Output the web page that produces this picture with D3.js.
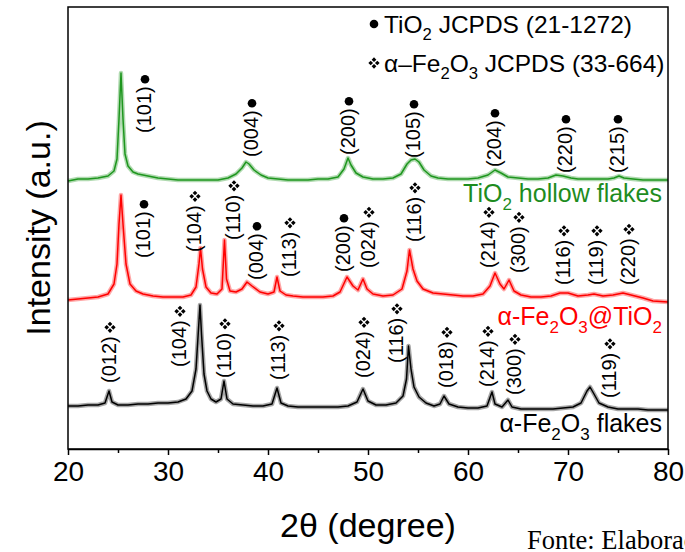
<!DOCTYPE html>
<html>
<head>
<meta charset="utf-8">
<script src="https://cdn.jsdelivr.net/npm/d3@7"></script>
<style>
  body { margin: 0; background: #fff; }
  svg { display: block; font-family: Arial, "Liberation Sans", Helvetica, sans-serif; }
</style>
</head>
<body>
<div id="chart"></div>
<script>
// 2theta (degree) vs stacked intensity (a.u.)
const tio2Flakes = [
  [20, 268], [21, 270], [22, 270], [23, 271], [24, 273], [24.6, 278], [24.9, 290], [25.1, 330],
  [25.3, 376], [25.5, 330], [25.7, 295], [26, 283], [26.5, 277], [27, 275], [28, 273], [29, 271],
  [30, 270], [31, 269], [32, 269], [33, 269], [34, 269], [35, 269], [36, 271], [36.8, 275],
  [37.4, 281], [37.8, 287], [38.1, 285], [38.6, 279], [39.3, 274], [40, 271], [41, 270], [42, 269],
  [43, 269], [44, 269], [45, 270], [46, 270], [47, 272], [47.6, 280], [48, 291], [48.3, 284],
  [48.8, 276], [49.5, 272], [50.5, 270], [51.5, 270], [52.5, 271], [53.3, 275], [53.9, 285],
  [54.3, 289], [54.7, 290], [55.1, 287], [55.6, 279], [56.3, 273], [57, 271], [58, 270], [59, 270],
  [60, 270], [61, 271], [62, 274], [62.7, 279], [63.3, 276], [64, 272], [65, 271], [66, 270],
  [67, 270], [68, 271], [68.8, 274], [69.5, 273], [70.3, 271], [71, 270], [72, 270], [73, 270],
  [74, 270], [74.6, 271], [75.1, 273], [75.6, 271], [76.5, 270], [77.5, 269], [78.5, 269], [80, 269]
];

const fe2o3Tio2 = [
  [20, 149], [21, 150], [22, 151], [23, 152], [24, 155], [24.6, 165], [24.9, 185], [25.1, 225],
  [25.3, 254], [25.5, 225], [25.8, 185], [26.2, 165], [26.8, 158], [27.5, 155], [28.5, 153],
  [29.5, 152], [30.5, 152], [31.5, 152], [32.3, 154], [32.8, 162], [33.1, 185], [33.25, 201],
  [33.45, 180], [33.8, 162], [34.3, 156], [34.9, 155], [35.4, 160], [35.65, 209], [35.85, 170],
  [36.2, 158], [36.8, 157], [37.4, 160], [37.9, 167], [38.4, 163], [39.2, 157], [40, 155],
  [40.6, 157], [40.9, 172], [41.2, 158], [41.8, 154], [42.5, 153], [43.5, 152], [44.5, 152],
  [45.5, 152], [46.5, 153], [47.2, 157], [47.9, 172], [48.5, 163], [49, 159], [49.5, 170],
  [49.9, 160], [50.5, 155], [51.5, 153], [52.5, 154], [53.4, 160], [53.9, 178], [54.15, 199],
  [54.5, 180], [54.9, 168], [55.5, 160], [56.5, 156], [57.5, 155], [58.5, 154], [59.5, 153],
  [60.5, 153], [61.5, 155], [62.2, 163], [62.7, 176], [63.2, 165], [63.6, 160], [64.1, 169],
  [64.6, 158], [65.3, 154], [66.3, 152], [67.3, 152], [68.3, 153], [69.2, 156], [70, 156],
  [71, 153], [72, 154], [72.6, 155], [73.5, 153], [74.5, 154], [75.5, 156], [76.3, 154],
  [77.5, 151], [78.5, 148], [80, 147]
];

const fe2o3Flakes = [
  [20, 43], [21, 43], [22, 44], [23, 44], [23.7, 46], [24.1, 58], [24.4, 47], [25, 44], [26, 44],
  [27, 45], [28, 45], [29, 46], [30, 46], [31, 47], [31.8, 50], [32.4, 58], [32.8, 80],
  [33.05, 120], [33.2, 144], [33.35, 115], [33.6, 75], [33.9, 58], [34.3, 50], [34.8, 47],
  [35.3, 50], [35.6, 68], [35.9, 50], [36.5, 45], [37.5, 44], [38.5, 43], [39.5, 43], [40.4, 45],
  [40.9, 61], [41.3, 46], [42, 43], [43, 42], [44, 42], [45, 42], [46, 42], [47, 42], [48, 43],
  [48.9, 47], [49.5, 60], [50, 48], [50.8, 44], [51.8, 44], [52.8, 46], [53.5, 53], [53.85, 70],
  [54.05, 103], [54.3, 80], [54.6, 62], [55.1, 52], [55.8, 46], [56.6, 43], [57.2, 45],
  [57.6, 53], [58.1, 45], [59, 42], [60, 41], [61, 41], [61.9, 43], [62.4, 57], [62.7, 45],
  [63.4, 42], [64, 49], [64.4, 42], [65.3, 40], [66.5, 40], [67.5, 40], [68.5, 40], [69.5, 41],
  [70.5, 42], [71.3, 46], [71.9, 58], [72.2, 62], [72.6, 55], [73.1, 46], [74, 42], [75, 40],
  [76, 40], [77, 40], [78, 39], [79, 39], [80, 39]
];

// reflection labels: hkl, phase (t = TiO2 dot, f = Fe2O3 diamonds), 2theta, intensity at label foot
const tio2Labels = [
  ['(101)', 't', 27.6, 316], ['(004)', 't', 38.3, 292], ['(200)', 't', 48.0, 294],
  ['(105)', 't', 54.5, 291], ['(204)', 't', 62.6, 282], ['(220)', 't', 69.7, 276],
  ['(215)', 't', 74.9, 276]
];
const compositeLabels = [
  ['(101)', 't', 27.5, 191], ['(104)', 'f', 32.6, 197], ['(110)', 'f', 36.5, 209],
  ['(004)', 't', 38.8, 169], ['(113)', 'f', 42.1, 172], ['(200)', 't', 47.5, 177],
  ['(024)', 'f', 50.0, 181], ['(116)', 'f', 54.6, 207], ['(214)', 'f', 62.0, 181],
  ['(300)', 'f', 65.0, 176], ['(116)', 'f', 69.5, 164], ['(119)', 'f', 72.8, 164],
  ['(220)', 'f', 76.0, 164]
];
const fe2o3Labels = [
  ['(012)', 'f', 24.1, 66], ['(104)', 'f', 31.1, 82], ['(110)', 'f', 35.6, 71],
  ['(113)', 'f', 41.0, 69], ['(024)', 'f', 49.5, 71], ['(116)', 'f', 52.8, 86],
  ['(018)', 'f', 57.8, 61], ['(214)', 'f', 61.9, 62], ['(300)', 'f', 64.6, 54],
  ['(119)', 'f', 74.1, 51]
];

const majorTicks = [20, 30, 40, 50, 60, 70, 80];
const minorTicks = [25, 35, 45, 55, 65, 75];

const W = 685, H = 552;
const margin = {top: 7, right: 17, bottom: 103, left: 68};
const width = W - margin.left - margin.right;
const height = H - margin.top - margin.bottom;

const svg = d3.select('#chart').append('svg')
  .attr('width', W)
  .attr('height', H);

const g = svg.append('g')
  .attr('transform', 'translate(' + margin.left + ',' + margin.top + ')');

const x = d3.scaleLinear().domain([20, 80]).range([0, width]);
const y = d3.scaleLinear().domain([0, height]).range([height, 0]);

// write text with subscripts: parts = [[text, isSub], ...]
function rich(sel, parts, size) {
  let down = false;
  parts.forEach(p => {
    const t = sel.append('tspan').text(p[0]);
    if (p[1] && !down) { t.attr('dy', size * 0.3).attr('font-size', size * 0.68); down = true; }
    else if (p[1]) { t.attr('font-size', size * 0.68); }
    else if (down) { t.attr('dy', -size * 0.3); down = false; }
  });
  return sel;
}

// series
const line = d3.line().x(d => x(d[0])).y(d => y(d[1]));
const series = [
  {data: tio2Flakes, color: '#1e961e'},
  {data: fe2o3Tio2, color: '#ff0000'},
  {data: fe2o3Flakes, color: '#000000'}
];
series.forEach(s => {
  g.append('path').datum(s.data)
    .attr('fill', 'none').attr('stroke', s.color)
    .attr('stroke-width', 4.5).attr('stroke-opacity', 0.35)
    .attr('stroke-linejoin', 'round')
    .attr('d', line);
  g.append('path').datum(s.data)
    .attr('fill', 'none').attr('stroke', s.color)
    .attr('stroke-width', 1.5)
    .attr('stroke-linejoin', 'round')
    .attr('d', line);
});

// phase markers: dot for TiO2, four little diamonds for Fe2O3
const diamond = d3.symbol().type(d3.symbolSquare).size(11);
function marker(sel, kind, cx, cy) {
  if (kind === 't') {
    sel.append('circle').attr('cx', cx).attr('cy', cy).attr('r', 4.3).attr('fill', '#000');
  } else {
    [[0, -3.3], [3.3, 0], [0, 3.3], [-3.3, 0]].forEach(o => {
      sel.append('path')
        .attr('d', diamond())
        .attr('transform', 'translate(' + (cx + o[0]) + ',' + (cy + o[1]) + ') rotate(45)')
        .attr('fill', '#000');
    });
  }
}

[tio2Labels, compositeLabels, fe2o3Labels].forEach(list => {
  list.forEach(d => {
    const px = x(d[2]), py = y(d[3]);
    const t = g.append('text')
      .attr('transform', 'translate(' + px + ',' + py + ') rotate(-90)')
      .attr('dominant-baseline', 'central')
      .attr('font-size', 20)
      .text(d[0]);
    const len = t.node().getComputedTextLength();
    marker(g, d[1], px + 1, py - len - (d[1] === 't' ? 7 : 9));
  });
});

// series names
const names = [
  {parts: [['TiO', 0], ['2', 1], [' hollow flakes', 0]], color: '#1e8c1e', at: 202},
  {parts: [['\u03b1-Fe', 0], ['2', 1], ['O', 0], ['3', 1], ['@TiO', 0], ['2', 1]], color: '#ff0000', at: 325},
  {parts: [['\u03b1-Fe', 0], ['2', 1], ['O', 0], ['3', 1], [' flakes', 0]], color: '#000', at: 432}
];
names.forEach(n => {
  rich(svg.append('text')
    .attr('x', 662).attr('y', n.at)
    .attr('text-anchor', 'end')
    .attr('font-size', 25)
    .attr('fill', n.color), n.parts, 25);
});

// phase legend
const legend = [
  {kind: 't', parts: [['TiO', 0], ['2', 1], [' JCPDS (21-1272)', 0]], at: 33},
  {kind: 'f', parts: [['\u03b1\u2013Fe', 0], ['2', 1], ['O', 0], ['3', 1], [' JCPDS (33-664)', 0]], at: 72}
];
legend.forEach(l => {
  rich(svg.append('text')
    .attr('x', 384).attr('y', l.at)
    .attr('font-size', 24.5), l.parts, 24.5);
  marker(svg, l.kind, 374, l.at - 9);
});

// frame
g.append('rect')
  .attr('width', width).attr('height', height)
  .attr('fill', 'none').attr('stroke', '#000').attr('stroke-width', 1.5);

// x axis
const xAxis = g.append('g')
  .attr('transform', 'translate(0,' + height + ')')
  .call(d3.axisBottom(x).tickValues(majorTicks).tickSize(6).tickSizeOuter(0).tickPadding(6));
xAxis.selectAll('text').attr('font-size', 28).attr('fill', '#000')
  .style('font-family', 'Arial, "Liberation Sans", sans-serif');
xAxis.selectAll('line').attr('stroke-width', 1.5);
xAxis.select('.domain').attr('stroke-width', 1.5);

g.append('g')
  .attr('transform', 'translate(0,' + height + ')')
  .call(d3.axisBottom(x).tickValues(minorTicks).tickSize(4).tickFormat(''))
  .call(a => a.select('.domain').remove())
  .selectAll('line').attr('stroke-width', 1.5);

// axis titles
svg.append('text')
  .attr('x', 368).attr('y', 537)
  .attr('text-anchor', 'middle')
  .attr('font-size', 34)
  .text('2\u03b8 (degree)');

svg.append('text')
  .attr('transform', 'translate(38,' + 228 + ') rotate(-90)')
  .attr('text-anchor', 'middle')
  .attr('dominant-baseline', 'central')
  .attr('font-size', 34)
  .text('Intensity (a.u.)');

svg.append('text')
  .attr('x', 527).attr('y', 549)
  .style('font-family', '"Liberation Serif", "Times New Roman", serif')
  .attr('font-size', 26.5)
  .text('Fonte: Elaboração própria');
</script>
</body>
</html>
